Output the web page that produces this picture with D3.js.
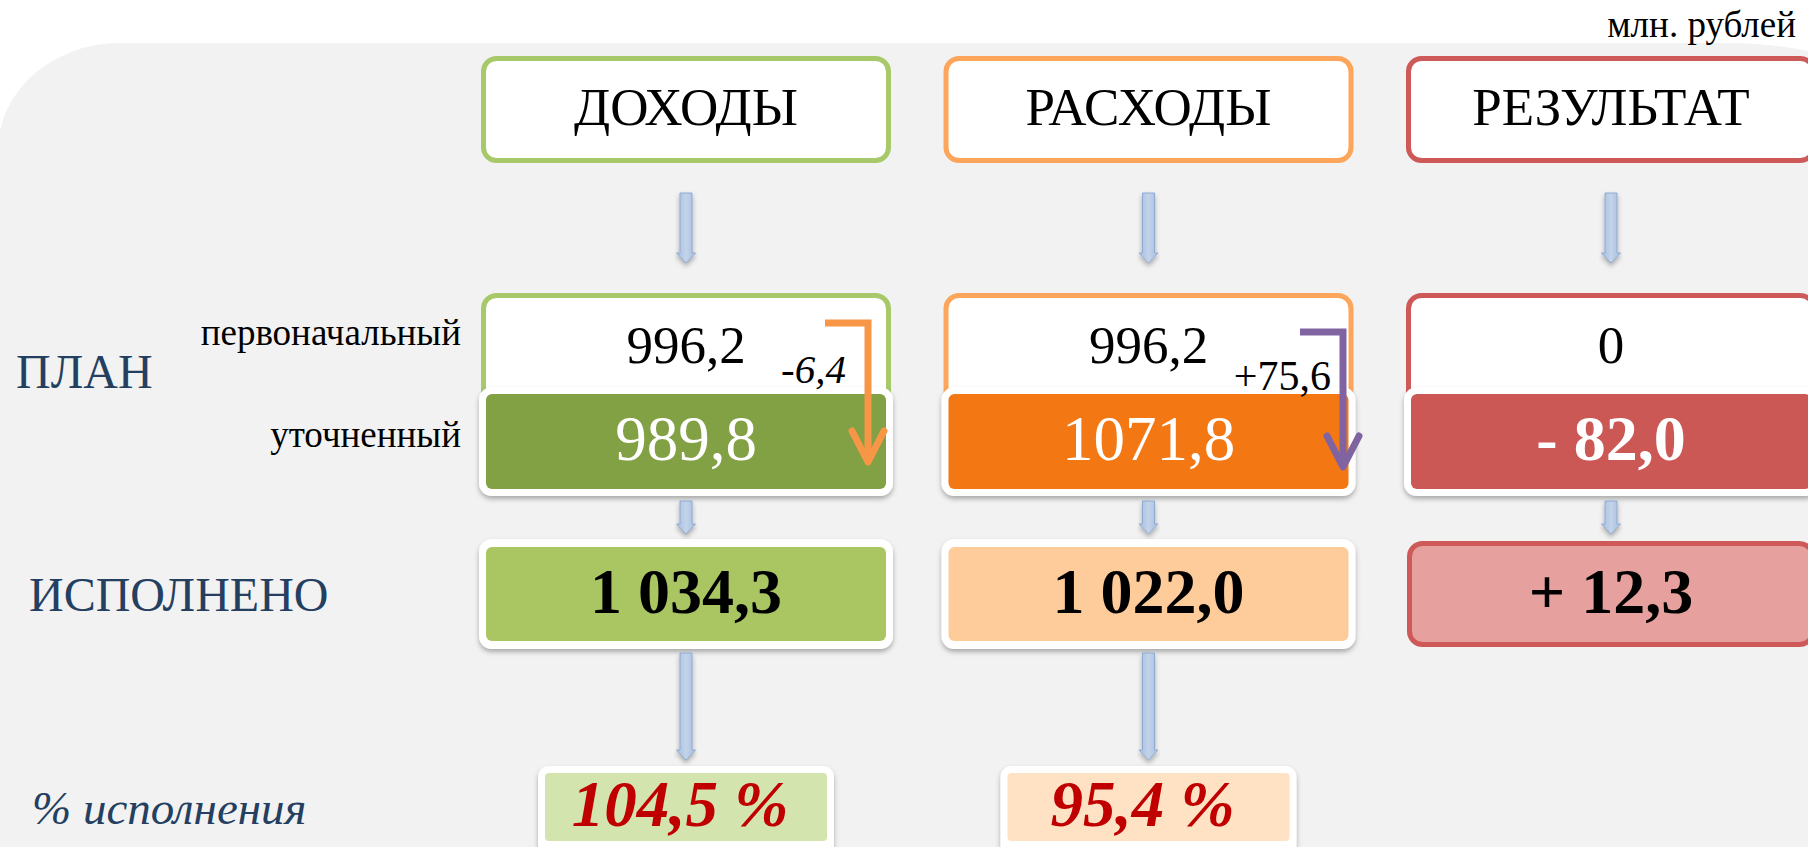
<!DOCTYPE html>
<html>
<head>
<meta charset="utf-8">
<script src="https://cdn.jsdelivr.net/npm/d3@7"></script>
<style>
  html, body { margin: 0; padding: 0; background: #ffffff; }
  svg { display: block; }
</style>
</head>
<body>
<svg id="chart" width="1808" height="847"></svg>
<script>
// ---------- data ----------
const columns       = ["ДОХОДЫ", "РАСХОДЫ", "РЕЗУЛЬТАТ"];
const planInitial   = ["996,2", "996,2", "0"];
const planChange    = ["-6,4", "+75,6", null];
const planRefined   = ["989,8", "1071,8", "- 82,0"];
const executed      = ["1 034,3", "1 022,0", "+ 12,3"];
const execPercent   = ["104,5 %", "95,4 %", null];
const rowLabels     = ["ПЛАН", "ИСПОЛНЕНО", "% исполнения"];
const planSubLabels = ["первоначальный", "уточненный"];
const unitLabel     = "млн. рублей";

// ---------- styles ----------
const FONT = "'Liberation Serif', 'Times New Roman', Tinos, serif";
const borderColor  = ["#a8c96a", "#fca55b", "#cd5a58"];
const refinedFill  = ["#82a044", "#f37712", "#cc5855"];
const execFill     = ["#aac663", "#fecb9b", "#e6a09e"];
const pctFill      = ["#d4e4ae", "#fee2c3"];
const bentColor    = ["#f79646", "#8064a2"];
const labelColor   = "#243f60";

const svg = d3.select("#chart");

const x = d3.scalePoint().domain(columns).range([686, 1611]);
const halfW = 205;

function txt(sel) { return sel.append("text").attr("font-family", FONT); }

// filters / gradients
const defs = svg.append("defs");
const f = defs.append("filter").attr("id", "shadow").attr("x", "-10%").attr("y", "-20%").attr("width", "120%").attr("height", "150%");
f.append("feDropShadow").attr("dx", 0).attr("dy", 3).attr("stdDeviation", 2.5)
  .attr("flood-color", "#000").attr("flood-opacity", 0.3);
const grad = defs.append("linearGradient").attr("id", "arrowGrad").attr("x1", 0).attr("x2", 1).attr("y1", 0).attr("y2", 0);
grad.append("stop").attr("offset", "0%").attr("stop-color", "#a7bedf");
grad.append("stop").attr("offset", "50%").attr("stop-color", "#c3d4ea");
grad.append("stop").attr("offset", "100%").attr("stop-color", "#a7bedf");

// background panel
svg.append("path")
  .attr("d", "M-2,150 A122,107 0 0 1 120,43 L1729,43 A200,100 0 0 1 1929,143 L1929,860 L-2,860 Z")
  .attr("fill", "#f2f2f2");

// unit label
txt(svg).attr("x", 1796).attr("y", 37).attr("text-anchor", "end")
  .attr("font-size", 37).attr("fill", "#000").text(unitLabel);

// ---------- helper: down arrow ----------
function downArrow(cx, y0, y1) {
  const sw = 6, hw = 9.5, hh = 10;
  const p = d3.path();
  p.moveTo(cx - sw, y0); p.lineTo(cx + sw, y0); p.lineTo(cx + sw, y1 - hh);
  p.lineTo(cx + hw, y1 - hh); p.lineTo(cx, y1); p.lineTo(cx - hw, y1 - hh);
  p.lineTo(cx - sw, y1 - hh); p.closePath();
  svg.append("path").attr("d", p.toString()).attr("fill", "url(#arrowGrad)")
    .attr("stroke", "#8faad3").attr("stroke-width", 1)
    .attr("filter", "url(#shadow)");
}

// ---------- header boxes ----------
columns.forEach((c, i) => {
  const cx = x(c);
  svg.append("rect").attr("x", cx - halfW + 2.5).attr("y", 58.5).attr("width", 2 * halfW - 5).attr("height", 102)
    .attr("rx", 13).attr("fill", "#fff").attr("stroke", borderColor[i]).attr("stroke-width", 5);
  txt(svg).attr("x", cx).attr("y", 125).attr("text-anchor", "middle")
    .attr("font-size", 53).attr("fill", "#000").text(c);
  downArrow(cx, 193, 263);
});

// ---------- plan boxes ----------
columns.forEach((c, i) => {
  const cx = x(c);
  svg.append("rect").attr("x", cx - halfW + 2.5).attr("y", 295.5).attr("width", 2 * halfW - 5).attr("height", 150)
    .attr("rx", 13).attr("fill", "#fff").attr("stroke", borderColor[i]).attr("stroke-width", 5);
  txt(svg).attr("x", cx).attr("y", 363).attr("text-anchor", "middle")
    .attr("font-size", 53).attr("fill", "#000").text(planInitial[i]);
});

// refined plan boxes
columns.forEach((c, i) => {
  const cx = x(c);
  svg.append("rect").attr("x", cx - 207).attr("y", 387).attr("width", 414).attr("height", 109)
    .attr("rx", 13).attr("fill", "#fff").attr("filter", "url(#shadow)");
  svg.append("rect").attr("x", cx - 200).attr("y", 394).attr("width", 400).attr("height", 95)
    .attr("rx", 6).attr("fill", refinedFill[i]);
  txt(svg).attr("x", cx).attr("y", 460).attr("text-anchor", "middle")
    .attr("font-size", i === 2 ? 64 : 63).attr("font-weight", i === 2 ? "bold" : "normal")
    .attr("fill", "#fff").text(planRefined[i]);
  downArrow(cx, 501, 534);
});

// plan change annotations and bent arrows
const changeLayout = [
  { textEnd: 846, textY: 383, italic: true,  size: 41, armX0: 825, vx: 868, y0: 323, tip: 462 },
  { textEnd: 1331, textY: 390, italic: false, size: 42, armX0: 1300, vx: 1343, y0: 332, tip: 467 }
];
planChange.forEach((v, i) => {
  if (v === null) return;
  const L = changeLayout[i];
  txt(svg).attr("x", L.textEnd).attr("y", L.textY).attr("text-anchor", "end")
    .attr("font-size", L.size).attr("font-style", L.italic ? "italic" : "normal")
    .attr("fill", "#000").text(v);
  const line = d3.line();
  svg.append("path").attr("d", line([[L.armX0, L.y0], [L.vx, L.y0], [L.vx, L.tip - 2]]))
    .attr("fill", "none").attr("stroke", bentColor[i]).attr("stroke-width", 7)
    .attr("stroke-linejoin", "miter");
  svg.append("path").attr("d", line([[L.vx - 16, L.tip - 31], [L.vx, L.tip], [L.vx + 16, L.tip - 31]]))
    .attr("fill", "none").attr("stroke", bentColor[i]).attr("stroke-width", 7)
    .attr("stroke-linecap", "round").attr("stroke-linejoin", "round");
});

// ---------- executed boxes ----------
columns.forEach((c, i) => {
  const cx = x(c);
  if (i < 2) {
    svg.append("rect").attr("x", cx - 207).attr("y", 539).attr("width", 414).attr("height", 110)
      .attr("rx", 13).attr("fill", "#fff").attr("filter", "url(#shadow)");
    svg.append("rect").attr("x", cx - 200).attr("y", 547).attr("width", 400).attr("height", 94)
      .attr("rx", 6).attr("fill", execFill[i]);
  } else {
    svg.append("rect").attr("x", cx - 201.5).attr("y", 543.5).attr("width", 403).attr("height", 101)
      .attr("rx", 13).attr("fill", execFill[i]).attr("stroke", borderColor[i]).attr("stroke-width", 5);
  }
  txt(svg).attr("x", cx).attr("y", 613).attr("text-anchor", "middle")
    .attr("font-size", 64).attr("font-weight", "bold").attr("fill", "#000").text(executed[i]);
});

// ---------- percent boxes ----------
execPercent.forEach((v, i) => {
  if (v === null) return;
  const cx = x(columns[i]);
  downArrow(cx, 653, 760);
  svg.append("rect").attr("x", cx - 148).attr("y", 766).attr("width", 296).attr("height", 110)
    .attr("rx", 11).attr("fill", "#fff").attr("filter", "url(#shadow)");
  svg.append("rect").attr("x", cx - 141).attr("y", 773).attr("width", 282).attr("height", 68)
    .attr("rx", 4).attr("fill", pctFill[i]);
  txt(svg).attr("x", cx - 6).attr("y", 826).attr("text-anchor", "middle")
    .attr("font-size", 65).attr("font-weight", "bold").attr("font-style", "italic")
    .attr("fill", "#c00000").text(v);
});

// ---------- row labels ----------
txt(svg).attr("x", 16).attr("y", 388).attr("font-size", 48).attr("fill", labelColor).text(rowLabels[0]);
txt(svg).attr("x", 29).attr("y", 611).attr("font-size", 48).attr("fill", labelColor).text(rowLabels[1]);
txt(svg).attr("x", 32).attr("y", 824).attr("font-size", 47).attr("font-style", "italic")
  .attr("fill", labelColor).text(rowLabels[2]);
txt(svg).attr("x", 461).attr("y", 345).attr("text-anchor", "end").attr("font-size", 37)
  .attr("fill", "#000").text(planSubLabels[0]);
txt(svg).attr("x", 461).attr("y", 447).attr("text-anchor", "end").attr("font-size", 37)
  .attr("fill", "#000").text(planSubLabels[1]);
</script>
</body>
</html>
